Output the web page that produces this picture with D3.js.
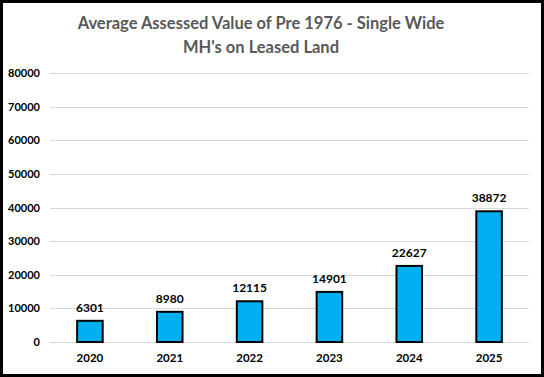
<!DOCTYPE html>
<html>
<head>
<meta charset="utf-8">
<script src="https://cdn.jsdelivr.net/npm/d3@7"></script>
<style>
  body { margin: 0; background: #fff; }
  svg { display: block; font-family: Lato, "Open Sans", sans-serif; }
</style>
</head>
<body>
<svg id="chart" width="544" height="377"></svg>
<script>
let years = ["2020", "2021", "2022", "2023", "2024", "2025"];
let values = [6301, 8980, 12115, 14901, 22627, 38872];
let yTicks = [0, 10000, 20000, 30000, 40000, 50000, 60000, 70000, 80000];

let svg = d3.select("#chart");
let width = +svg.attr("width");
let height = +svg.attr("height");

let margin = { left: 50, right: 15, top: 73, bottom: 35 };

let x = d3.scaleBand()
  .domain(years)
  .range([margin.left, width - margin.right])
  .paddingInner(0.68)
  .paddingOuter(0.34);

let y = d3.scaleLinear()
  .domain([0, 80000])
  .range([height - margin.bottom, margin.top]);

// border
svg.append("rect")
  .attr("x", 1.5).attr("y", 1.5)
  .attr("width", width - 3).attr("height", height - 3)
  .attr("fill", "#fff")
  .attr("stroke", "#000")
  .attr("stroke-width", 3);

// gridlines
svg.append("g")
  .selectAll("line")
  .data(yTicks)
  .enter()
  .append("line")
  .attr("x1", margin.left)
  .attr("x2", width - margin.right)
  .attr("y1", d => Math.round(y(d)) + 0.5)
  .attr("y2", d => Math.round(y(d)) + 0.5)
  .attr("stroke", "#d9d9d9")
  .attr("stroke-width", 1);

// y axis labels
let yAxis = d3.axisLeft(y).tickValues(yTicks).tickSize(0).tickPadding(10).tickFormat(d3.format("d"));
let gy = svg.append("g")
  .attr("transform", "translate(" + margin.left + ",0)")
  .call(yAxis);
gy.select(".domain").remove();
gy.selectAll("text")
  .attr("fill", "#000")
  .style("font-size", "11px")
  .style("font-weight", "bold")
  .style("font-family", "Lato, sans-serif");

// x axis labels
let xAxis = d3.axisBottom(x).tickSize(0).tickPadding(12);
let gx = svg.append("g")
  .attr("transform", "translate(0," + y(0) + ")")
  .call(xAxis);
gx.select(".domain").remove();
gx.selectAll("text")
  .attr("fill", "#000")
  .style("font-size", "11.5px")
  .style("font-weight", "bold")
  .style("font-family", "Lato, sans-serif");

// bars
svg.append("g")
  .selectAll("rect")
  .data(values)
  .enter()
  .append("rect")
  .attr("x", (d, i) => x(years[i]))
  .attr("y", d => y(d))
  .attr("width", x.bandwidth())
  .attr("height", d => y(0) - y(d))
  .attr("fill", "#00b0f0")
  .attr("stroke", "#000")
  .attr("stroke-width", 2);

// value labels
svg.append("g")
  .selectAll("text")
  .data(values)
  .enter()
  .append("text")
  .attr("x", (d, i) => x(years[i]) + x.bandwidth() / 2)
  .attr("y", d => y(d) - 9)
  .attr("text-anchor", "middle")
  .style("font-size", "12px")
  .style("font-weight", "bold")
  .attr("fill", "#000")
  .text(d => d);

// title
let title = svg.append("text")
  .attr("text-anchor", "middle")
  .attr("fill", "#595959")
  .style("font-size", "16.5px")
  .style("font-weight", "bold");
title.append("tspan").attr("x", width / 2 - 11).attr("y", 29).text("Average Assessed Value of Pre 1976 - Single Wide");
title.append("tspan").attr("x", width / 2 - 11).attr("y", 53).text("MH's on Leased Land");
</script>
</body>
</html>
